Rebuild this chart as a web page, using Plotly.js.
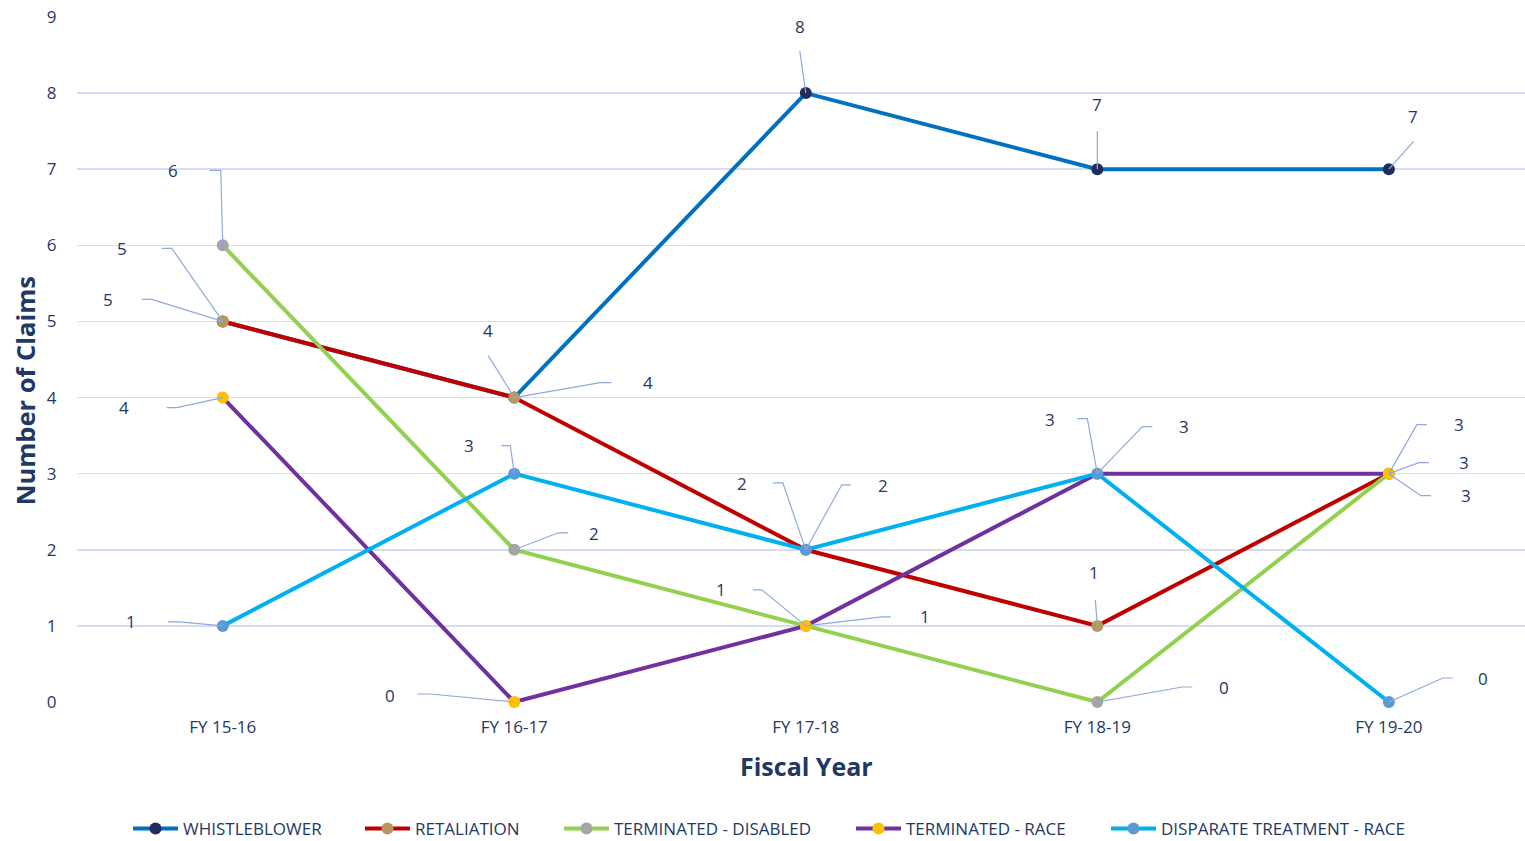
<!DOCTYPE html>
<html>
<head>
<meta charset="utf-8">
<script src="https://cdn.plot.ly/plotly-3.0.1.min.js"></script>
<style>html,body{margin:0;padding:0;background:#fff;}#chart{width:1525px;height:841px;}</style>
</head>
<body>
<div id="chart"></div>
<script>
const categories = ["FY 15-16", "FY 16-17", "FY 17-18", "FY 18-19", "FY 19-20"];
const seriesNames = ["WHISTLEBLOWER", "RETALIATION", "TERMINATED - DISABLED", "TERMINATED - RACE", "DISPARATE TREATMENT - RACE"];
const whistleblower = [5, 4, 8, 7, 7];
const retaliation = [5, 4, 2, 1, 3];
const terminatedDisabled = [6, 2, 1, 0, 3];
const terminatedRace = [4, 0, 1, 3, 3];
const disparateTreatmentRace = [1, 3, 2, 3, 0];
const yTickValues = [0, 1, 2, 3, 4, 5, 6, 7, 8, 9];

const seriesValues = [whistleblower, retaliation, terminatedDisabled, terminatedRace, disparateTreatmentRace];

// ---- styling ----
const lineColors = ["#0070C0", "#C00000", "#92D050", "#7030A0", "#00B0F0"];
const markerColors = ["#1F2D5A", "#B5985F", "#A5A5A5", "#FFC000", "#5B9BD5"];
// data-label placement in screen pixels relative to the point:
// [labelDx, labelDy, cornerDx, cornerDy, endDx, endDy]
const labelPlacement = [
  [[-101,-73,-51,-73,-61,-73], [-26,-67,-26,-42,-26,-42], [-6,-67,-6,-42,-6,-42], [0,-65,0,-38,0,-38], [24,-53,25,-28,25,-28]],
  [[-115,-22,-71,-22,-81,-22], [134,-15,86,-15,97,-15], [-64,-66,-23,-67,-33,-67], [-3,-53,-2,-26,-2,-26], [70,-49,28,-49,38,-49]],
  [[-50,-75,-2,-75,-13,-75], [80,-16,44,-17,54,-17], [-85,-36,-44,-36,-53,-36], [127,-15,85,-15,95,-15], [75,-11,30,-11,40,-11]],
  [[-99,10,-46,10,-56,10], [-124,-7,-84,-8,-97,-8], [119,-9,76,-9,85,-9], [-47,-54,-10,-55,-20,-55], [77,22,32,22,42,22]],
  [[-92,-4,-43,-4,-55,-4], [-45,-28,-4,-28,-13,-28], [77,-64,36,-65,45,-65], [87,-47,45,-47,55,-47], [94,-24,54,-24,64,-24]]
];
const legendLeft = [128, 360, 559, 851, 1106];

const navy = "#1F3864";
const leaderColor = "#8FAADC";
const fontFam = "'Open Sans', 'Noto Sans', sans-serif";
const legendNames = ["legend", "legend2", "legend3", "legend4", "legend5"];

const traces = seriesValues.map((vals, i) => ({
  type: "scatter",
  mode: "lines+markers",
  name: seriesNames[i],
  legend: legendNames[i],
  x: categories,
  y: vals,
  cliponaxis: false,
  line: {color: lineColors[i], width: 4},
  marker: {color: markerColors[i], size: 12},
  hoverinfo: "x+y+name"
}));

const annotations = [];
const shapes = [];
seriesValues.forEach((vals, i) => {
  vals.forEach((v, j) => {
    const p = labelPlacement[i][j];
    annotations.push({
      x: categories[j], y: v, xref: "x", yref: "y",
      text: String(v), showarrow: false,
      xshift: p[0], yshift: -p[1],
      xanchor: "center", yanchor: "middle",
      font: {family: fontFam, size: 17, color: navy}
    });
    shapes.push({
      type: "path", xref: "x", yref: "y",
      xsizemode: "pixel", ysizemode: "pixel",
      xanchor: categories[j], yanchor: v,
      path: "M0,0 L" + p[2] + "," + (-p[3]) + " L" + p[4] + "," + (-p[5]),
      line: {color: leaderColor, width: 1.2}
    });
  });
});
annotations.push({
  xref: "paper", yref: "paper", x: -0.036, y: 0.455,
  xanchor: "center", yanchor: "middle", textangle: -90, showarrow: false,
  text: "<b>Number of Claims</b>",
  font: {family: fontFam, size: 25.5, color: navy}
});
annotations.push({
  xref: "paper", yref: "paper", x: 0.5035, y: -0.0934,
  xanchor: "center", yanchor: "middle", showarrow: false,
  text: "<b>Fiscal Year</b>",
  font: {family: fontFam, size: 25, color: navy}
});

const layout = {
  width: 1525, height: 841,
  margin: {l: 77, r: 0, t: 17, b: 139},
  paper_bgcolor: "#fff", plot_bgcolor: "#fff",
  font: {family: fontFam, color: navy},
  showlegend: true,
  xaxis: {
    type: "category",
    range: [-0.5, 4.467],
    showgrid: false, zeroline: false, showline: false,
    tickfont: {family: fontFam, size: 17, color: navy},
    ticks: "outside", ticklen: 10, tickcolor: "rgba(0,0,0,0)"
  },
  yaxis: {
    range: [0, 9],
    tickvals: yTickValues,
    showgrid: true, gridcolor: "#D6DDF0", gridwidth: 1.5,
    zeroline: false, showline: false,
    tickfont: {family: fontFam, size: 17, color: navy},
    ticks: "outside", ticklen: 16, tickcolor: "rgba(0,0,0,0)"
  },
  annotations: annotations,
  shapes: shapes
};
legendNames.forEach((ln, i) => {
  layout[ln] = {
    orientation: "h", xref: "container", yref: "container",
    x: legendLeft[i] / 1525, xanchor: "left",
    y: 1 - 829 / 841, yanchor: "middle",
    font: {family: fontFam, size: 17, color: navy},
    itemwidth: 45, bgcolor: "rgba(0,0,0,0)"
  };
});

Plotly.newPlot("chart", traces, layout, {displayModeBar: false, staticPlot: true});
</script>
</body>
</html>
